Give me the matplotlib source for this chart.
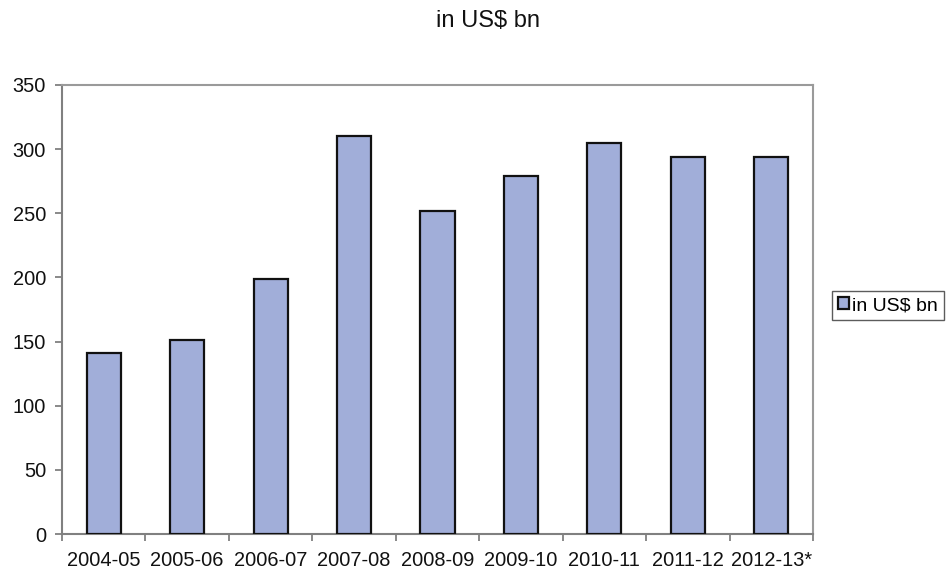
import matplotlib
matplotlib.use("Agg")
import matplotlib.pyplot as plt
import numpy as np

plt.rcParams['font.family'] = ['Liberation Sans', 'DejaVu Sans']

years = ["2004-05", "2005-06", "2006-07", "2007-08", "2008-09",
         "2009-10", "2010-11", "2011-12", "2012-13*"]
values = [141, 151, 199, 310, 252, 279, 305, 294, 294]
y_ticks = [0, 50, 100, 150, 200, 250, 300, 350]
series_name = "in US$ bn"

fig = plt.figure(figsize=(9.52, 5.70), dpi=100)
ax = fig.add_axes([62 / 952, 36 / 570, 751 / 952, 449 / 570])

x = np.arange(len(years))
ax.bar(x, values, width=0.41, color="#A1AED9", edgecolor="#111111",
       linewidth=1.6, label=series_name, zorder=3)

ax.set_xlim(-0.5, len(years) - 0.5)
ax.set_ylim(0, 350)
ax.set_yticks(y_ticks)
ax.set_xticks(x)
ax.set_xticklabels(years)
ax.set_xticks(np.arange(-0.5, len(years), 1.0), minor=True)

ax.tick_params(axis="x", which="major", length=0, pad=12, labelsize=14.4,
               labelcolor="#111111")
ax.tick_params(axis="x", which="minor", length=5, width=1.3, color="#808080",
               direction="out")
ax.tick_params(axis="y", which="major", length=5, width=1.3, color="#808080",
               direction="out", pad=6.5, labelsize=14.4, labelcolor="#111111")

for side in ("left", "bottom"):
    ax.spines[side].set_color("#808080")
    ax.spines[side].set_linewidth(1.5)
for side in ("top", "right"):
    ax.spines[side].set_color("#9a9a9a")
    ax.spines[side].set_linewidth(1.5)

fig.text(488 / 952, 1 - 21 / 570, series_name, ha="center", va="center",
         fontsize=17, color="#111111")

leg = fig.legend(loc="center left", bbox_to_anchor=(832 / 952, 1 - 305.5 / 570),
                 fontsize=14, frameon=True, fancybox=False, handlelength=0.55,
                 handleheight=0.55, handletextpad=0.2, borderpad=0.3,
                 borderaxespad=0)
leg.get_frame().set_edgecolor("#333333")
leg.get_frame().set_linewidth(1.0)

fig.savefig("out.png", dpi=100, facecolor="white")
